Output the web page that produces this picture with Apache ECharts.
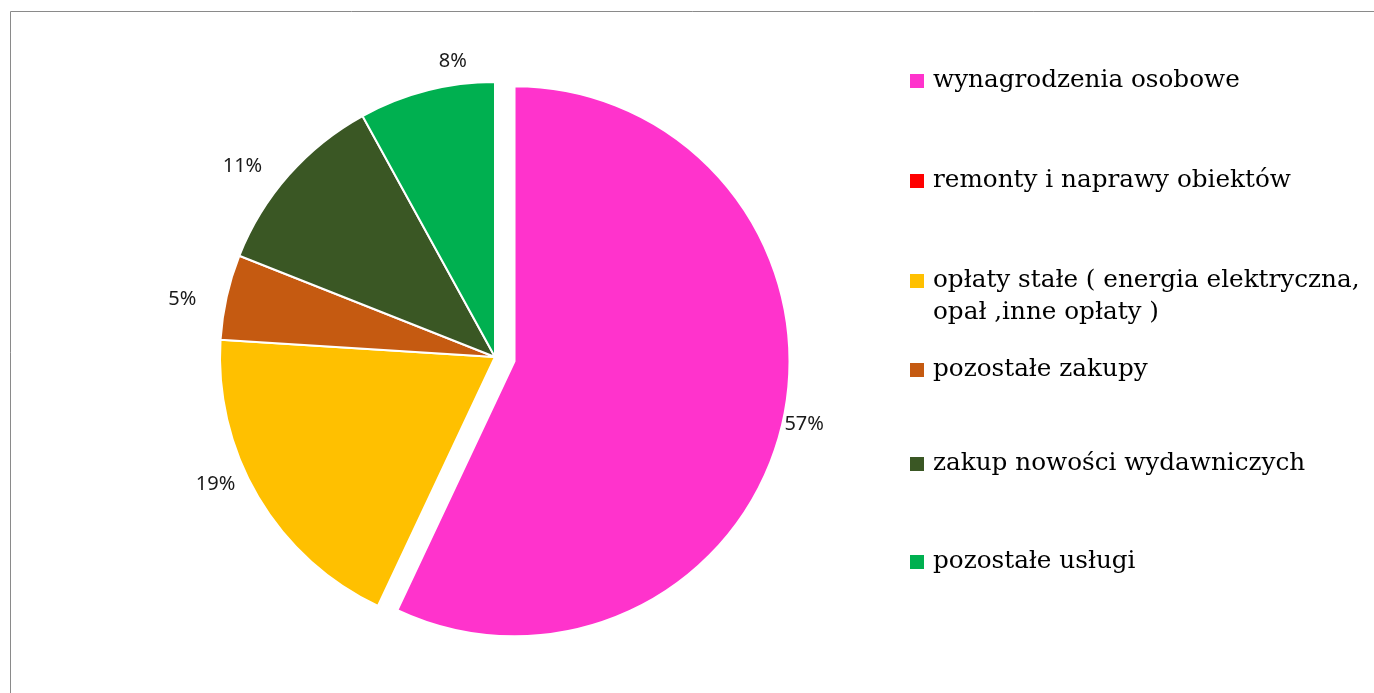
<!DOCTYPE html>
<html><head><meta charset="utf-8">
<script src="https://cdn.jsdelivr.net/npm/echarts@6/dist/echarts.min.js"></script>
<style>
html,body{margin:0;padding:0;background:#fff;overflow:hidden;}
#chart{position:absolute;left:0;top:0;width:1374px;height:693px;}
</style></head>
<body>
<div id="chart"></div>
<script>
const categories = [
  'wynagrodzenia osobowe',
  'remonty i naprawy obiektów',
  'opłaty stałe ( energia elektryczna,\nopał ,inne opłaty )',
  'pozostałe zakupy',
  'zakup nowości wydawniczych',
  'pozostałe usługi'
];
const values = [57, 0, 19, 5, 11, 8];
const colors = ['#FF33CC', '#FF0000', '#FFC000', '#C55A11', '#3A5724', '#00B050'];

// layout tweaks (not data)
const legendCenters = [81, 181, 281, 370, 464, 562];
const labelNudge = [[-9, -4], [0, 0], [-16, -28], [-14, 9], [-23, 12], [34, 1]];

const chart = echarts.init(document.getElementById('chart'), null, {renderer: 'canvas'});

const pieData = categories.map((n, i) => ({
  name: n, value: values[i], selected: i === 0,
  itemStyle: {color: colors[i]}
}));
const labelData = categories.map((n, i) => ({
  name: n, value: values[i], selected: i === 0,
  label: {show: values[i] > 0, offset: labelNudge[i]},
  select: {label: {show: values[i] > 0, offset: labelNudge[i]}}
}));

const lh = 32;
const legends = categories.map((n, i) => {
  const twoLine = n.indexOf('\n') >= 0;
  return {
    orient: 'vertical', left: 908,
    top: legendCenters[i] - (twoLine ? lh * 1.5 : lh / 2),
    padding: 0,
    icon: 'rect', itemWidth: 16, itemHeight: 16,
    selectedMode: false,
    data: [{name: n, itemStyle: {color: colors[i]}}],
    formatter: name => (twoLine ? ' \n' + name : name),
    textStyle: {
      fontFamily: 'DejaVu Serif', fontSize: 24.7, color: '#000',
      lineHeight: lh,
      padding: [0, 0, 0, 3]
    }
  };
});

chart.setOption({
  animation: false,
  backgroundColor: '#fff',
  graphic: [
    {type: 'line', silent: true, shape: {x1: 10.5, y1: 11.5, x2: 1380, y2: 11.5}, style: {stroke: '#8a8a8a', lineWidth: 1}},
    {type: 'line', silent: true, shape: {x1: 10.5, y1: 11.5, x2: 10.5, y2: 700}, style: {stroke: '#8a8a8a', lineWidth: 1}}
  ],
  legend: legends,
  series: [
    {
      type: 'pie',
      center: [495, 357], radius: [0, 275],
      startAngle: 90, clockwise: true,
      selectedMode: 'single', selectedOffset: 20,
      silent: true,
      itemStyle: {borderColor: '#fff', borderWidth: 2},
      label: {show: false}, labelLine: {show: false},
      data: pieData
    },
    {
      type: 'pie',
      center: [495, 357], radius: [280, 326],
      startAngle: 90, clockwise: true,
      selectedMode: 'single', selectedOffset: 20,
      silent: true,
      itemStyle: {color: 'transparent', borderWidth: 0},
      label: {
        show: true, position: 'inside', formatter: '{d}%',
        fontFamily: 'Noto Sans', fontSize: 20, color: '#1a1a1a'
      },
      labelLine: {show: false},
      data: labelData
    }
  ]
});
</script>
</body></html>
